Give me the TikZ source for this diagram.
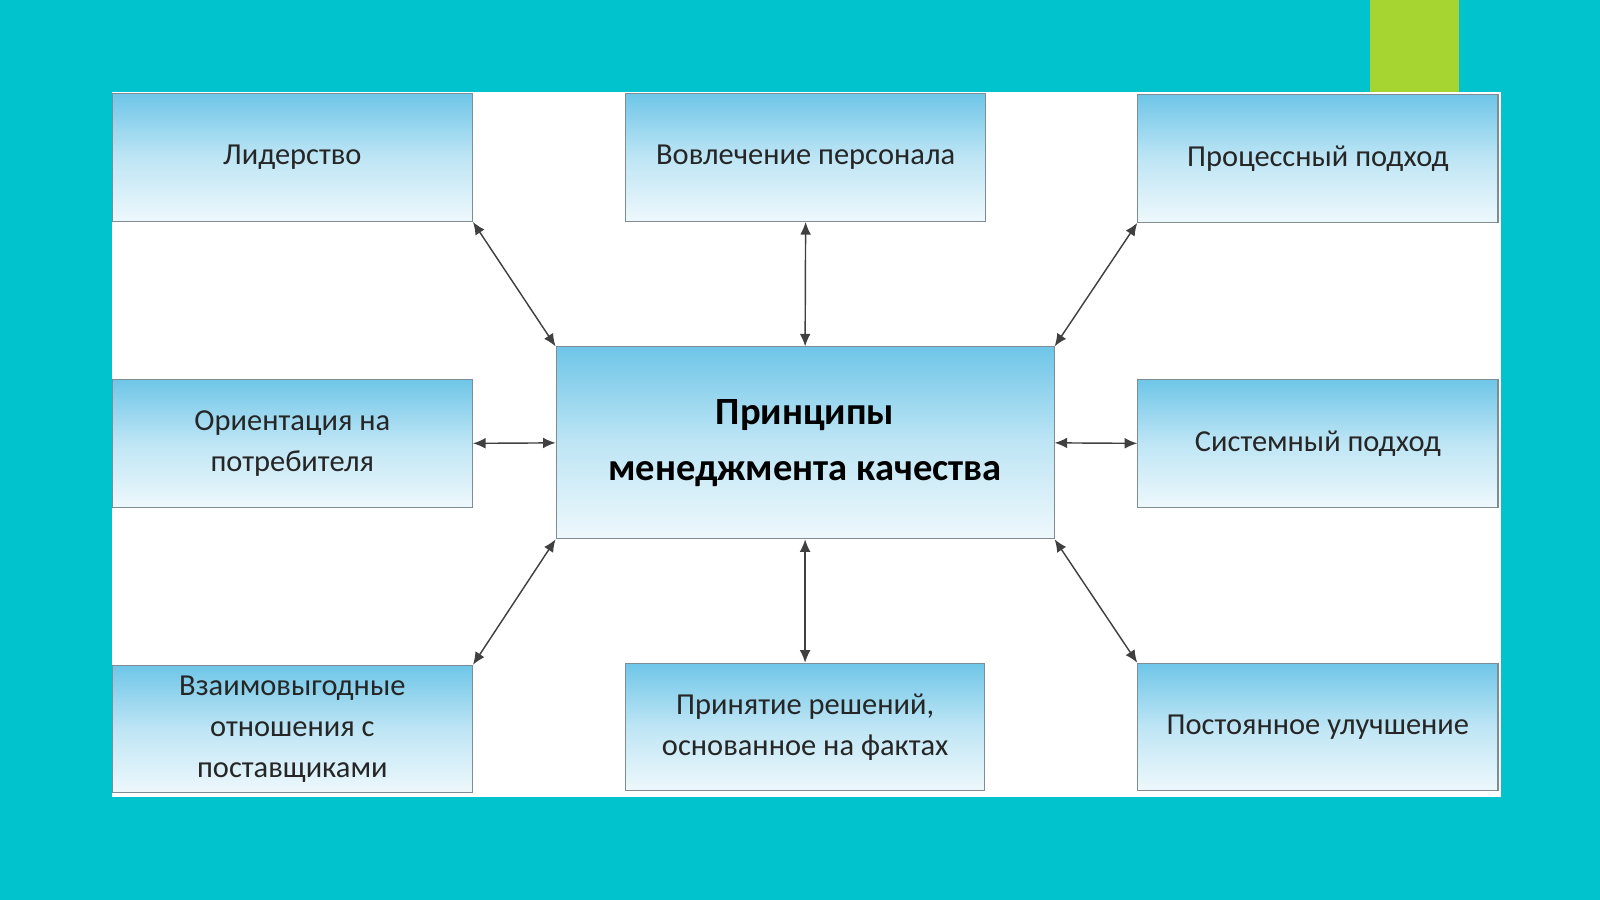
\documentclass[tikz,border=0pt]{standalone}
\usepackage{fontspec}
\setmainfont{Carlito}
\usetikzlibrary{arrows.meta}
\definecolor{teal0}{HTML}{00C3CD}
\definecolor{lime0}{HTML}{A6D531}
\definecolor{boxtop}{HTML}{6FC6E8}
\definecolor{boxbot}{HTML}{EEF8FC}
\definecolor{boxline}{HTML}{7F8C94}
\definecolor{arr}{HTML}{404040}
\tikzset{
  pbox/.style={draw=boxline, line width=0.6pt, top color=boxtop, bottom color=boxbot, middle color=boxtop!45!white,
    align=center, font=\fontsize{17}{23}\selectfont, text=black!85, inner sep=0pt},
  link/.style={arr, line width=0.8pt, {Latex[length=7pt,width=6pt]}-{Latex[length=7pt,width=6pt]}}
}
\begin{document}
\begin{tikzpicture}[x=0.02cm,y=-0.02cm]
\fill[teal0] (0,0) rectangle (1568,882);
\fill[lime0] (1343,0) rectangle (1430,90);
\fill[white] (110,90) rectangle (1471,781);
\node[pbox, minimum width=353*0.02cm, minimum height=125*0.02cm] (lead) at (286.5,154.5) {Лидерство};
\node[pbox, minimum width=353*0.02cm, minimum height=125*0.02cm] (invol) at (789.5,154.5) {Вовлечение персонала};
\node[pbox, minimum width=353*0.02cm, minimum height=125*0.02cm] (proc) at (1291.5,155.5) {Процессный подход};
\node[pbox, minimum width=353*0.02cm, minimum height=125*0.02cm] (orient) at (286.5,434.5) {Ориентация на\\потребителя};
\node[pbox, minimum width=488*0.02cm, minimum height=188*0.02cm, font=\bfseries\fontsize{21.5}{31}\selectfont, text=black] (center) at (789,434) {Принципы\\менеджмента качества};
\node[pbox, minimum width=353*0.02cm, minimum height=125*0.02cm] (sys) at (1291.5,434.5) {Системный подход};
\node[pbox, minimum width=353*0.02cm, minimum height=125*0.02cm] (mutual) at (286.5,714.5) {Взаимовыгодные\\отношения с\\поставщиками};
\node[pbox, minimum width=352*0.02cm, minimum height=125*0.02cm] (dec) at (789,712.5) {Принятие решений,\\основанное на фактах};
\node[pbox, minimum width=353*0.02cm, minimum height=125*0.02cm] (impr) at (1291.5,712.5) {Постоянное улучшение};
\draw[link] (lead.south east) -- (center.north west);
\draw[link] (invol.south) -- (center.north);
\draw[link] (proc.south west) -- (center.north east);
\draw[link] (orient.east) -- (center.west);
\draw[link] (sys.west) -- (center.east);
\draw[link] (mutual.north east) -- (center.south west);
\draw[link] (dec.north) -- (center.south);
\draw[link] (impr.north west) -- (center.south east);
\end{tikzpicture}
\end{document}
